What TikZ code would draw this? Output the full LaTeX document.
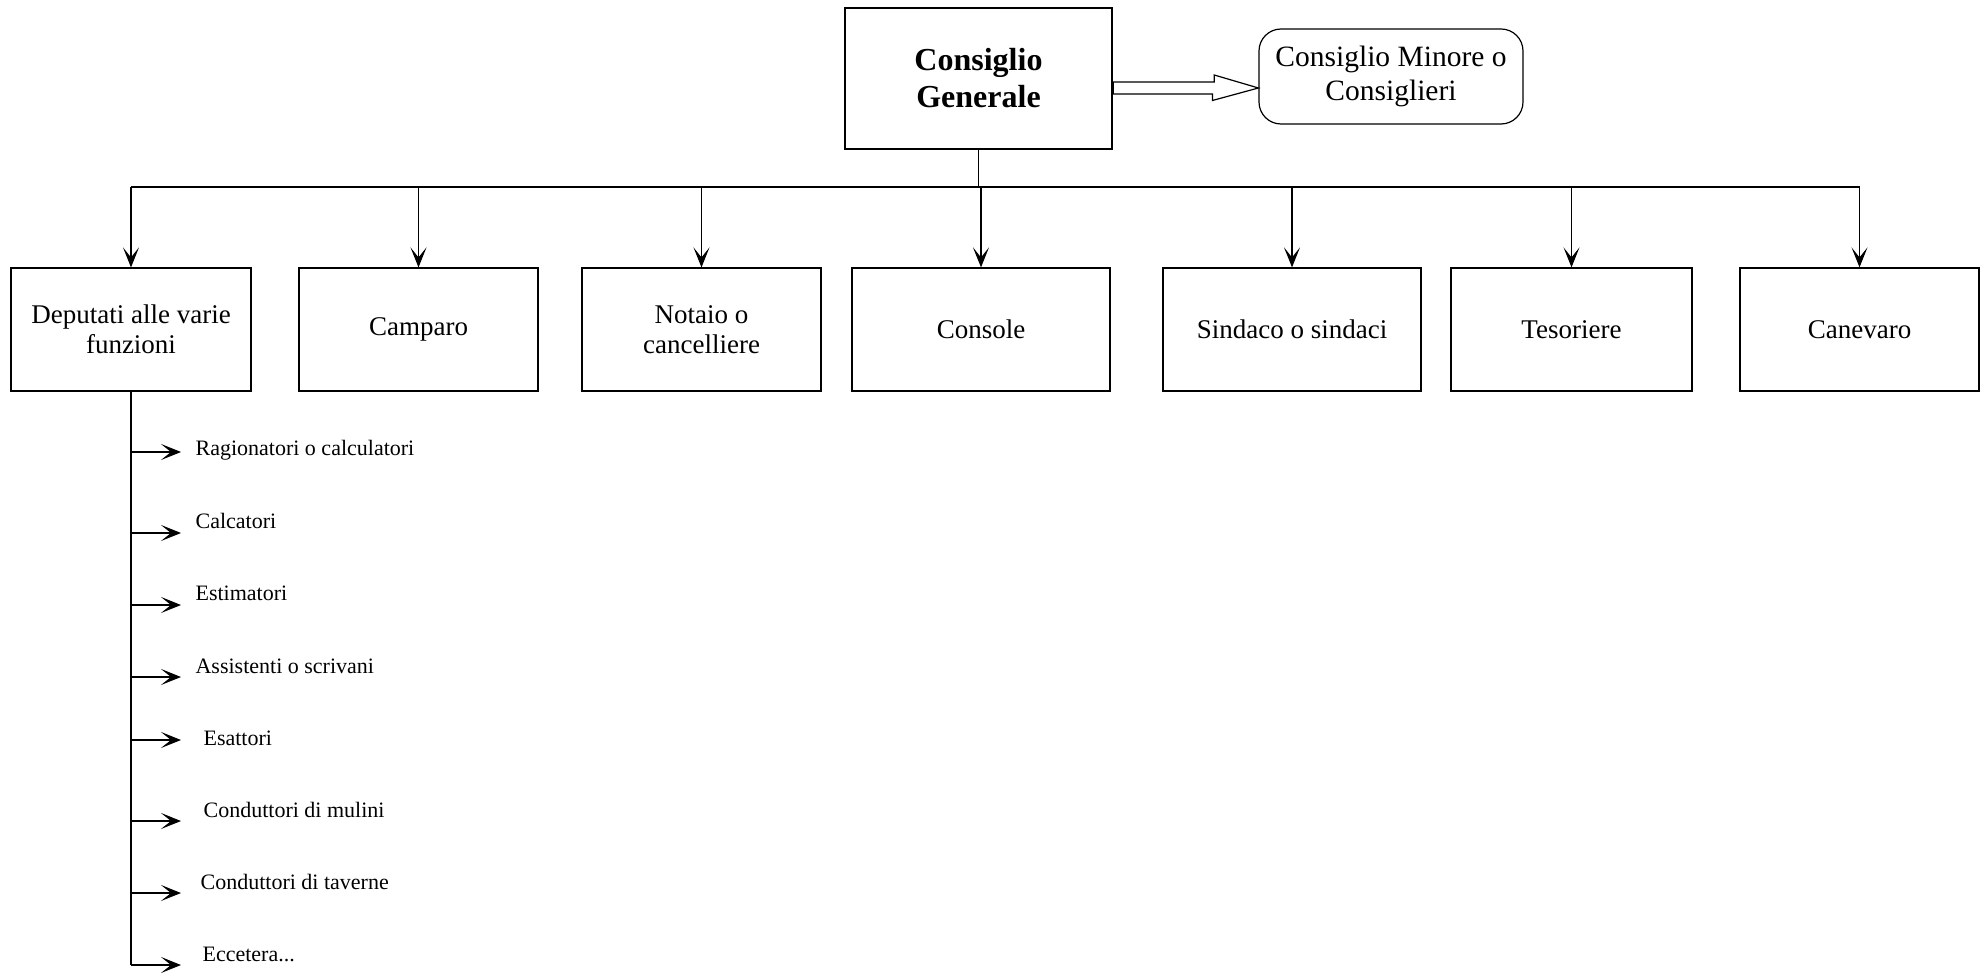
\documentclass[tikz,border=0pt]{standalone}
\usepackage{fontspec}
\setmainfont{Liberation Serif}
\usetikzlibrary{arrows.meta}

\begin{document}
\begin{tikzpicture}[x=1pt,y=-1pt,line width=1.2pt,
    arr/.style={-{Stealth[length=20pt,width=16pt,inset=10pt]}},
    ufficio/.style={draw,minimum height=123pt,align=center,inner sep=0pt,font=\fontsize{27}{30}\selectfont},
    voce/.style={anchor=west,inner sep=0pt,font=\fontsize{22}{25}\selectfont}]
    \useasboundingbox (0,0) rectangle (1984,973);
    \node [draw,line width=2.4pt,minimum width=267pt,minimum height=141pt,align=center,font=\bfseries\fontsize{32}{37}\selectfont] (generale) at (978.5,78.5) {Consiglio\\Generale};
    \node [draw,rounded corners=22pt,minimum width=264pt,minimum height=95pt,align=center,font=\fontsize{29.5}{34}\selectfont] (minore) at (1391,76.5) {Consiglio Minore o\\Consiglieri};
    \draw ([yshift=-3.5pt]generale.east) -- ++(101,0) -- ++(0,-7) -- ([yshift=-11.5pt]minore.west) -- ++(-46,12.5) -- ++(0,-6.5) -- ([yshift=-15.5pt]generale.east) -- cycle;
    \foreach \n/\x/\w/\t in {deputati/131/240/{Deputati alle varie\\funzioni}, camparo/418.5/239/Camparo, notaio/701.5/239/{Notaio o\\cancelliere}, console/981/258/Console, sindaco/1292/258/Sindaco o sindaci, tesoriere/1571.5/241/Tesoriere, canevaro/1859.5/239/Canevaro}
        \node [ufficio,minimum width=\w pt] (\n) at (\x,329.5) {\t};
    \coordinate (bus) at (979,187);
    \draw (generale.south) -- (generale.south |- bus);
    \draw (deputati.north |- bus) -- (canevaro.north |- bus);
    \foreach \n in {deputati,camparo,notaio,console,sindaco,tesoriere,canevaro}
        \draw [arr] (\n.north |- bus) -- (\n.north);
    \draw (deputati.south) -- (deputati.south |- 0,965);
    \foreach \ya/\yt/\xt/\t [count=\i] in {452/450/195/Ragionatori o calculatori, 533/521/195/Calcatori, 605/593/195/Estimatori, 677/666/195/Assistenti o scrivani, 740/738/203/Esattori, 821/810/203/Conduttori di mulini, 893/882/200/Conduttori di taverne, 965/954/202/{Eccetera.{}.{}.}} {
        \node [voce] (voce\i) at (\xt,\yt) {\t};
        \draw [arr] (deputati.south |- 0,\ya) -- ++(50,0);
    }
\end{tikzpicture}
\end{document}
